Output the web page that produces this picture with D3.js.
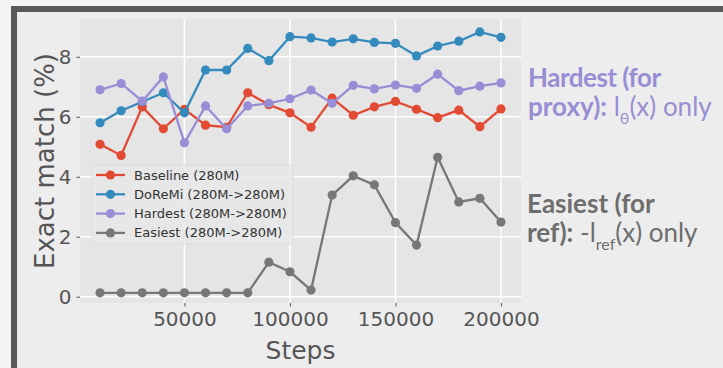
<!DOCTYPE html>
<html>
<head>
<meta charset="utf-8">
<script src="https://cdn.jsdelivr.net/npm/d3@7"></script>
<style>
  body { margin: 0; background: #f4f4f4; }
  svg { display: block; }
</style>
</head>
<body>
<div id="chart"></div>
<script>
// data
var steps = [10000, 20000, 30000, 40000, 50000, 60000, 70000, 80000, 90000, 100000,
             110000, 120000, 130000, 140000, 150000, 160000, 170000, 180000, 190000, 200000];
var baseline = [5.08, 4.71, 6.33, 5.6, 6.25, 5.72, 5.65, 6.8, 6.4, 6.13,
                5.65, 6.62, 6.05, 6.33, 6.51, 6.25, 5.97, 6.22, 5.67, 6.26];
var doremi = [5.8, 6.2, 6.5, 6.8, 6.13, 7.56, 7.56, 8.28, 7.87, 8.67,
              8.63, 8.49, 8.6, 8.48, 8.45, 8.03, 8.36, 8.52, 8.83, 8.65];
var hardest = [6.9, 7.11, 6.52, 7.33, 5.13, 6.36, 5.6, 6.36, 6.45, 6.6,
               6.89, 6.45, 7.05, 6.93, 7.06, 6.95, 7.42, 6.87, 7.02, 7.13];
var easiest = [0.13, 0.13, 0.13, 0.13, 0.13, 0.13, 0.13, 0.13, 1.15, 0.83,
               0.22, 3.39, 4.03, 3.73, 2.47, 1.72, 4.65, 3.16, 3.28, 2.49];
var seriesNames = ["Baseline (280M)", "DoReMi (280M->280M)", "Hardest (280M->280M)", "Easiest (280M->280M)"];
var seriesColors = ["#e24a33", "#348abd", "#988ed5", "#777777"];
var xTicks = [50000, 100000, 150000, 200000];
var yTicks = [0, 2, 4, 6, 8];

var width = 723, height = 368;
var svg = d3.select("#chart").append("svg")
    .attr("width", width)
    .attr("height", height);

// slide frame
svg.append("rect")
    .attr("x", 14).attr("y", 9)
    .attr("width", 800).attr("height", 500)
    .attr("fill", "#ededed")
    .attr("stroke", "#595959")
    .attr("stroke-width", 6);

var panel = { left: 80, right: 521, top: 19, bottom: 303 };
var x = d3.scaleLinear().domain([500, 209500]).range([panel.left, panel.right]);
var y = d3.scaleLinear().domain([-0.21, 9.26]).range([panel.bottom, panel.top]);

// panel background
svg.append("rect")
    .attr("x", panel.left).attr("y", panel.top)
    .attr("width", panel.right - panel.left)
    .attr("height", panel.bottom - panel.top)
    .attr("fill", "#e5e5e5");

// grid
var grid = svg.append("g").attr("stroke", "#ffffff").attr("stroke-width", 1.5);
grid.selectAll(".gx").data(xTicks).enter().append("line")
    .attr("x1", d => x(d)).attr("x2", d => x(d))
    .attr("y1", panel.top).attr("y2", panel.bottom);
grid.selectAll(".gy").data(yTicks).enter().append("line")
    .attr("x1", panel.left).attr("x2", panel.right)
    .attr("y1", d => y(d)).attr("y2", d => y(d));

// axes
var xAxis = svg.append("g")
    .attr("transform", "translate(0," + panel.bottom + ")")
    .call(d3.axisBottom(x).tickValues(xTicks).tickFormat(d3.format("d")).tickSize(3.5).tickPadding(5));
var yAxis = svg.append("g")
    .attr("transform", "translate(" + panel.left + ",0)")
    .call(d3.axisLeft(y).tickValues(yTicks).tickFormat(d3.format("d")).tickSize(3.5).tickPadding(5));
[xAxis, yAxis].forEach(a => {
    a.select(".domain").remove();
    a.selectAll(".tick line").attr("stroke", "#555555");
    a.selectAll(".tick text")
        .attr("fill", "#555555")
        .style("font-family", "DejaVu Sans")
        .style("font-size", "20px");
});

svg.append("text")
    .attr("x", (panel.left + panel.right) / 2)
    .attr("y", 359)
    .attr("text-anchor", "middle")
    .attr("fill", "#555555")
    .style("font-family", "DejaVu Sans")
    .style("font-size", "25px")
    .text("Steps");

svg.append("text")
    .attr("transform", "translate(45," + ((panel.top + panel.bottom) / 2) + ") rotate(-90)")
    .attr("text-anchor", "middle")
    .attr("dominant-baseline", "central")
    .attr("fill", "#555555")
    .style("font-family", "DejaVu Sans")
    .style("font-size", "26px")
    .text("Exact match (%)");

// lines
var allSeries = [baseline, doremi, hardest, easiest];
var line = d3.line().x((d, i) => x(steps[i])).y(d => y(d));
allSeries.forEach((vals, k) => {
    var g = svg.append("g");
    g.append("path")
        .datum(vals)
        .attr("d", line)
        .attr("fill", "none")
        .attr("stroke", seriesColors[k])
        .attr("stroke-width", 2.3);
    g.selectAll("circle").data(vals).enter().append("circle")
        .attr("cx", (d, i) => x(steps[i]))
        .attr("cy", d => y(d))
        .attr("r", 4.6)
        .attr("fill", seriesColors[k]);
});

// legend
var legend = svg.append("g");
legend.append("rect")
    .attr("x", 92).attr("y", 165)
    .attr("width", 201).attr("height", 79)
    .attr("rx", 3)
    .attr("fill", "#e8e8e8")
    .attr("fill-opacity", 0.85)
    .attr("stroke", "#dddddd");
seriesNames.forEach((name, k) => {
    var ly = 175 + k * 19.3;
    legend.append("line")
        .attr("x1", 96).attr("x2", 125)
        .attr("y1", ly).attr("y2", ly)
        .attr("stroke", seriesColors[k])
        .attr("stroke-width", 2.3);
    legend.append("circle")
        .attr("cx", 110.5).attr("cy", ly).attr("r", 4.6)
        .attr("fill", seriesColors[k]);
    legend.append("text")
        .attr("x", 134).attr("y", ly)
        .attr("dominant-baseline", "central")
        .attr("fill", "#333333")
        .style("font-family", "DejaVu Sans")
        .style("font-size", "13px")
        .text(name);
});

// annotations on the right
function note(x0, y0, color, boldA, boldB, sub, squeeze) {
    svg.append("text")
        .attr("x", x0).attr("y", y0)
        .attr("fill", color)
        .style("font-family", "Lato")
        .style("font-size", "26px")
        .style("font-weight", "bold")
        .style("letter-spacing", squeeze + "px")
        .text(boldA);
    var t2 = svg.append("text")
        .attr("x", x0).attr("y", y0 + 29)
        .attr("fill", color)
        .style("font-family", "Lato")
        .style("font-size", "26px");
    t2.append("tspan").style("font-weight", "bold").text(boldB);
    t2.append("tspan").text(sub[0]);
    t2.append("tspan").attr("dy", 8).style("font-size", "16px").text(sub[1]);
    t2.append("tspan").attr("dy", -8).text(sub[2]);
}
note(528, 87, "#988ed5", "Hardest (for", "proxy):", [" l", "\u03b8", "(x) only"], -0.5);
note(527, 213, "#6e6e6e", "Easiest (for", "ref):", [" -l", "ref", "(x) only"], 0);
</script>
</body>
</html>
